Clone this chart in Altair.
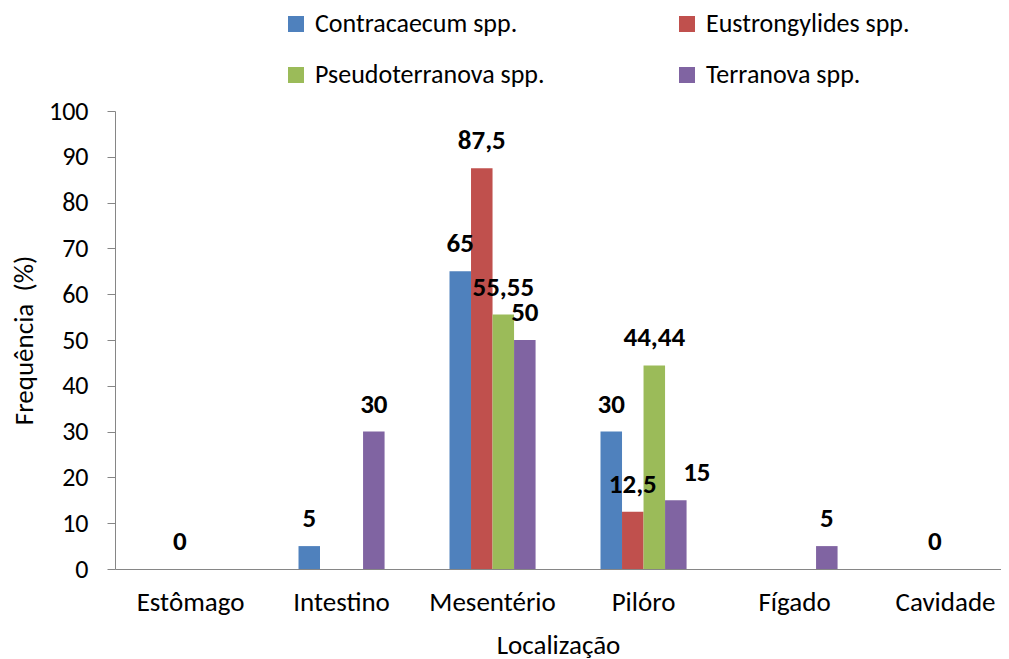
import altair as alt
import pandas as pd

categories = ["Estômago", "Intestino", "Mesentério", "Pilóro", "Fígado", "Cavidade"]
series = ["Contracaecum spp.", "Eustrongylides spp.", "Pseudoterranova spp.", "Terranova spp."]
colors = ["#4F81BD", "#C0504D", "#9BBB59", "#8064A2"]

contracaecum = [0, 5, 65, 30, 0, 0]
eustrongylides = [0, 0, 87.5, 12.5, 0, 0]
pseudoterranova = [0, 0, 55.55, 44.44, 0, 0]
terranova = [0, 30, 50, 15, 5, 0]

contracaecum_lbl = ["", "5", "65", "30", "", ""]
eustrongylides_lbl = ["0", "", "87,5", "12,5", "", "0"]
pseudoterranova_lbl = ["", "", "55,55", "44,44", "", ""]
terranova_lbl = ["", "30", "50", "15", "5", ""]

vals = [contracaecum, eustrongylides, pseudoterranova, terranova]
lbls = [contracaecum_lbl, eustrongylides_lbl, pseudoterranova_lbl, terranova_lbl]

rows = []
for s, v, l in zip(series, vals, lbls):
    for c, vv, ll in zip(categories, v, l):
        rows.append({"Local": c, "Serie": s, "Valor": vv, "Rotulo": ll})
df = pd.DataFrame(rows)

FONT = "Carlito, Calibri, Lato, sans-serif"

x = alt.X("Local:N", sort=categories,
          scale=alt.Scale(paddingInner=0.43, paddingOuter=0.1488, align=0.7234),
          axis=alt.Axis(title="Localização", labelAngle=0, ticks=False,
                        labelPadding=20, titlePadding=17, domainColor="#868686",
                        labelFontSize=27, titleFontSize=27))
xo = alt.XOffset("Serie:N", sort=series, scale=alt.Scale(paddingInner=0, paddingOuter=0))
y = alt.Y("Valor:Q", scale=alt.Scale(domain=[0, 100]),
          axis=alt.Axis(title="Frequência \u00a0(%)", values=list(range(0, 101, 10)),
                        grid=False, tickSize=8, tickColor="#868686", domainColor="#868686",
                        labelPadding=19, titlePadding=10, labelFontSize=26, titleFontSize=27))
color = alt.Color("Serie:N", sort=series,
                  scale=alt.Scale(domain=series, range=colors),
                  legend=alt.Legend(title=None, orient="none", legendX=168, legendY=-100,
                                    columns=2, columnPadding=129, rowPadding=25,
                                    symbolType="square", symbolSize=256, symbolStrokeWidth=0,
                                    labelFontSize=26, labelOffset=6, labelLimit=0,
                                    direction="horizontal"))

bars = alt.Chart(df).mark_bar().encode(x=x, xOffset=xo, y=y, color=color)

base_text = alt.Chart(df).encode(x=x, xOffset=xo, y=y, text="Rotulo:N")
txt_main = base_text.mark_text(baseline="alphabetic", dy=-19, fontSize=27, fontWeight="bold",
                               font=FONT, color="black").transform_filter(
    "datum.Rotulo != '' && datum.Rotulo != '15'")
txt_right = base_text.mark_text(baseline="alphabetic", dy=-19, dx=21, fontSize=27, fontWeight="bold",
                                font=FONT, color="black").transform_filter("datum.Rotulo == '15'")

chart = alt.layer(bars, txt_main, txt_right).properties(
    width=886, height=458,
    autosize=alt.AutoSizeParams(type="none"),
    padding={"left": 107, "top": 103, "right": 0, "bottom": 90},
).configure(font=FONT).configure_axis(
    titleFontWeight="normal", labelColor="black",
    titleColor="black", labelFont=FONT, titleFont=FONT
).configure_legend(labelFont=FONT, padding=0).configure_view(stroke=None)

chart.save("out.html", embed_options={"renderer": "svg", "actions": False})
